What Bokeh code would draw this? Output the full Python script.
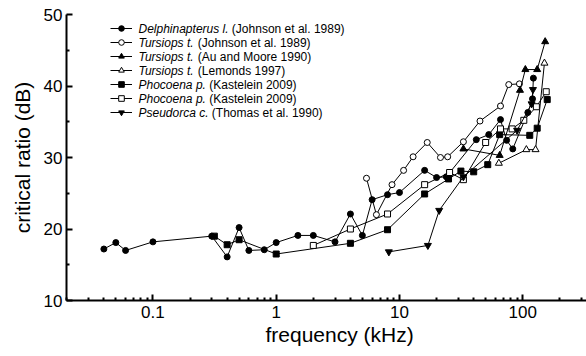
import math
from bokeh.plotting import figure
from bokeh.models import Range1d, FixedTicker, Label, Legend, LegendItem, Title
from bokeh.embed import file_html
from bokeh.resources import INLINE

# ---------------- data ----------------
delph_f = [0.04, 0.05, 0.06, 0.1, 0.3, 0.4, 0.5, 0.6, 0.8, 1, 1.5, 2, 3, 4, 5, 6, 8, 10,
           16, 20, 24, 42, 53, 66, 74, 83, 110, 120, 122]
delph_cr = [17.2, 18.1, 17.0, 18.2, 19.0, 16.1, 20.2, 17.0, 17.1, 18.1, 19.1, 19.1, 18.2, 22.1,
            19.1, 24.1, 24.8, 25.1, 28.2, 27.2, 27.3, 32.5, 33.2, 35.3, 32.4, 31.2, 36.3, 38.2, 41.1]

tj_f = [5.4, 6.5, 8.7, 10.8, 12.9, 16.8, 21.5, 24.6, 33, 45, 66, 77, 94]
tj_cr = [27.1, 22.0, 26.2, 28.2, 30.1, 32.1, 30.0, 30.1, 32.2, 35.1, 37.2, 40.2, 40.3]

am_f = [33, 65, 95, 105, 131, 152]
am_cr = [31.2, 30.3, 39.4, 42.3, 42.3, 46.2]

lem_f = [64, 107, 127, 150]
lem_cr = [29.2, 31.1, 31.1, 43.2]

pk1_f = [0.315, 0.4, 0.5, 1, 4, 8, 16, 25, 31.5, 40, 52, 65, 114, 131, 158]
pk1_cr = [19.0, 17.8, 18.5, 16.5, 18.0, 19.9, 24.9, 27.0, 28.1, 28.0, 29.0, 33.2, 33.1, 34.1, 38.1]

pk2_f = [2, 4, 8, 16, 25.5, 33, 50, 66, 82, 102, 129, 155]
pk2_cr = [17.7, 20.0, 22.1, 26.2, 27.9, 26.9, 32.1, 34.0, 34.0, 35.2, 37.1, 39.2]

ps_f = [8.2, 17, 21, 33, 90, 118, 121]
ps_cr = [16.8, 17.7, 22.6, 27.3, 33.8, 37.5, 39.5]

species = ["Delphinapterus l.", "Tursiops t.", "Tursiops t.", "Tursiops t.",
           "Phocoena p.", "Phocoena p.", "Pseudorca c."]
sources = ["(Johnson et al. 1989)", "(Johnson et al. 1989)", "(Au and Moore 1990)",
           "(Lemonds 1997)", "(Kastelein 2009)", "(Kastelein 2009)", "(Thomas et al. 1990)"]

x_ticks = [0.1, 1, 10, 100]
y_ticks = [10, 20, 30, 40, 50]

# ---------------- layout ----------------
W, H = 586, 356
L, R, T, B = 66, 0, 14, 56
XMIN, XMAX = 0.0199, 329.0
YMIN, YMAX = 10, 50
FONT = "Liberation Sans"

p = figure(width=W, height=H, x_axis_type="log",
           x_range=Range1d(XMIN, XMAX), y_range=Range1d(YMIN, YMAX),
           output_backend="svg", toolbar_location=None,
           min_border_left=L, min_border_right=R, min_border_top=T, min_border_bottom=B)
p.outline_line_color = None
p.xgrid.visible = False
p.ygrid.visible = False
p.background_fill_color = "white"
p.border_fill_color = "white"

minor_x = [m * 10 ** e for e in range(-2, 3) for m in range(2, 10)]
p.xaxis.ticker = FixedTicker(ticks=x_ticks, minor_ticks=minor_x)
p.xaxis.major_label_overrides = {0.1: "0.1", 1: "1", 10: "10", 100: "100"}
p.yaxis.ticker = FixedTicker(ticks=y_ticks, minor_ticks=[15, 25, 35, 45])

for ax in (p.xaxis[0], p.yaxis[0]):
    ax.axis_line_width = 2
    ax.axis_line_color = "black"
    ax.major_tick_in = 6
    ax.major_tick_out = 0
    ax.minor_tick_in = 3
    ax.minor_tick_out = 0
    ax.major_tick_line_width = 2
    ax.minor_tick_line_width = 2
    ax.major_label_text_font = FONT
    ax.major_label_text_font_size = "17px"
    ax.major_label_text_color = "black"
    ax.axis_label_text_font = FONT
    ax.axis_label_text_font_size = "21px"
    ax.axis_label_text_font_style = "normal"
    ax.axis_label_text_color = "black"

p.yaxis.axis_label = "critical ratio (dB)"
p.yaxis.major_label_standoff = 4
p.yaxis.axis_label_standoff = 7
p.xaxis.major_label_standoff = 5

p.add_layout(Title(text="frequency (kHz)", align="left", offset=199, standoff=0,
                   text_font=FONT, text_font_size="21px", text_font_style="normal",
                   text_color="black"), "below")


# pixel -> data helpers (layout only)
def px_to_x(px):
    lo, hi = math.log10(XMIN), math.log10(XMAX)
    return 10 ** (lo + (px - L) / (W - L - R) * (hi - lo))


def py_to_y(py):
    return YMAX - (py - T) / (H - T - B) * (YMAX - YMIN)


series = [
    (delph_f, delph_cr, "circle", "black", 6),
    (tj_f, tj_cr, "circle", "white", 6),
    (am_f, am_cr, "triangle", "black", 7),
    (lem_f, lem_cr, "triangle", "white", 7),
    (pk1_f, pk1_cr, "square", "black", 6),
    (pk2_f, pk2_cr, "square", "white", 6),
    (ps_f, ps_cr, "inverted_triangle", "black", 7),
]

items = []
for (fx, cy, mk, fill, sz) in series:
    ln = p.line(fx, cy, line_color="black", line_width=1)
    sc = p.scatter(fx, cy, marker=mk, size=sz, fill_color=fill, line_color="black", line_width=1)
    items.append(LegendItem(label=" ", renderers=[ln, sc]))

ROW = 14
TOP = 21
legend = Legend(items=items, location=(110 - L, H - B - (TOP + ROW * len(items))),
                padding=0, margin=0, spacing=0, glyph_width=22, glyph_height=ROW,
                label_height=ROW, label_width=0, label_standoff=0,
                label_text_font_size="1px", border_line_color=None,
                background_fill_alpha=0)
p.add_layout(legend, "center")

# Arial / Liberation Sans advance widths (per 1000 em) for the italic part
AW = {" ": 278, ".": 278, "D": 722, "T": 611, "P": 667, "a": 556, "c": 500, "d": 556,
      "e": 556, "h": 556, "i": 222, "l": 222, "n": 556, "o": 556, "p": 556, "r": 333,
      "s": 500, "t": 278, "u": 556}
FS = 12
TX = 138
for i, (sp, src) in enumerate(zip(species, sources)):
    cy_px = TOP + ROW * i + ROW / 2
    wpx = sum(AW.get(ch, 556) for ch in sp + " ") * FS / 1000.0
    p.add_layout(Label(x=px_to_x(TX), y=py_to_y(cy_px), text=sp, text_font=FONT,
                       text_font_style="italic", text_font_size=f"{FS}px",
                       text_baseline="middle", text_color="black"))
    p.add_layout(Label(x=px_to_x(TX + wpx), y=py_to_y(cy_px), text=src, text_font=FONT,
                       text_font_size=f"{FS}px", text_baseline="middle", text_color="black"))

open("out.html", "w").write(file_html(p, INLINE))
